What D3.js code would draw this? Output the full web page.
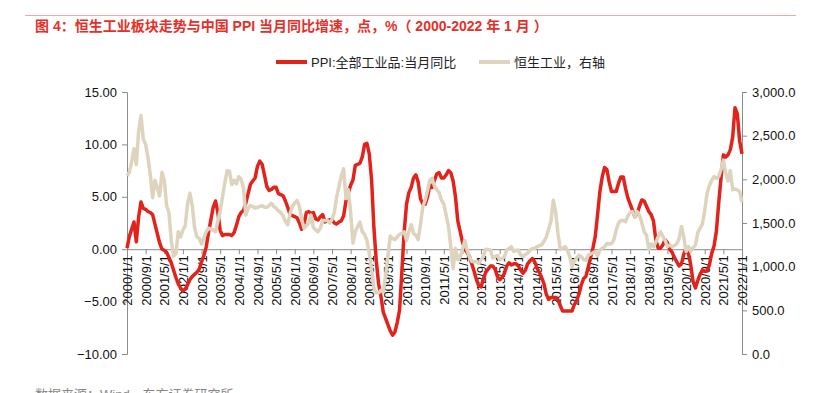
<!DOCTYPE html>
<meta charset="utf-8">
<script src="https://cdn.jsdelivr.net/npm/d3@7"></script>
<style>
  html, body { margin: 0; background: #fff; }
  svg { font-family: "Liberation Sans", "Noto Sans CJK SC", sans-serif; }
  .axis path, .axis line { stroke: #8c8c8c; }
  .axis text { fill: #111; font-size: 13px; }
</style>
<body>
<script>
// months 2000/1/1 .. 2022/1/1
var months = [];
for (var yy = 2000; yy <= 2022; yy++) {
  for (var mm = 1; mm <= 12; mm++) {
    months.push(yy + "/" + mm + "/1");
    if (yy == 2022) break;
  }
}

var xTicks = ["2000/1/1","2000/9/1","2001/5/1","2002/1/1","2002/9/1","2003/5/1","2004/1/1","2004/9/1",
  "2005/5/1","2006/1/1","2006/9/1","2007/5/1","2008/1/1","2008/9/1","2009/5/1","2010/1/1","2010/9/1",
  "2011/5/1","2012/1/1","2012/9/1","2013/5/1","2014/1/1","2014/9/1","2015/5/1","2016/1/1","2016/9/1",
  "2017/5/1","2018/1/1","2018/9/1","2019/5/1","2020/1/1","2020/9/1","2021/5/1","2022/1/1"];
var leftTicks = [-10, -5, 0, 5, 10, 15];
var rightTicks = [0, 500, 1000, 1500, 2000, 2500, 3000];

// PPI:全部工业品:当月同比 (%)
var ppi = [
  0.1, 1.2, 1.9, 2.6, 0.7, 3.1, 4.5, 3.9, 3.8, 3.6, 3.5, 3.3,
  2.4, 1.5, 0.6, 0.0, -0.1, -0.3, -0.8, -1.3, -2.0, -2.7, -3.3, -3.7,
  -4.0, -3.8, -3.4, -2.9, -2.6, -2.4, -2.2, -1.9, -1.2, -0.6, 0.2, 1.6,
  2.8, 4.0, 4.6, 3.5, 1.8, 1.3, 1.4, 1.4, 1.4, 1.3, 1.6, 2.3,
  3.1, 3.5, 3.7, 4.4, 5.3, 6.2, 6.5, 6.8, 7.9, 8.4, 8.1, 7.1,
  6.0, 5.6, 5.7, 5.9, 5.9, 5.3, 5.2, 5.1, 4.6, 4.0, 3.3, 3.2,
  3.1, 3.0, 2.5, 1.9, 2.4, 3.5, 3.6, 3.4, 3.5, 2.9, 2.8, 3.1,
  3.3, 2.6, 2.7, 2.8, 2.8, 2.5, 2.4, 2.6, 2.7, 3.2, 4.6, 5.4,
  6.1, 6.6, 8.0, 8.1, 8.2, 8.8, 10.0, 10.1, 9.1, 6.6, 2.0, -1.1,
  -3.3, -4.5, -6.0, -6.6, -7.2, -7.8, -8.2, -7.9, -7.0, -5.8, -2.1, 1.7,
  4.3, 5.4, 5.9, 6.8, 7.1, 6.4, 4.8, 4.3, 4.3, 5.0, 6.1, 5.9,
  6.6, 7.2, 7.3, 6.8, 6.8, 7.1, 7.5, 7.3, 6.5, 5.0, 2.7, 1.7,
  0.7, 0.0, -0.3, -0.7, -1.4, -2.1, -2.9, -3.5, -3.6, -2.8, -2.2, -1.9,
  -1.6, -1.6, -1.9, -2.6, -2.9, -2.7, -2.3, -1.6, -1.3, -1.5, -1.4, -1.4,
  -1.6, -2.0, -2.3, -2.0, -1.4, -1.1, -0.9, -1.2, -1.8, -2.2, -2.7, -3.3,
  -4.3, -4.8, -4.6, -4.6, -4.6, -4.8, -5.4, -5.9, -5.9, -5.9, -5.9, -5.9,
  -5.3, -4.9, -4.3, -3.4, -2.8, -2.6, -1.7, -0.8, 0.1, 1.2, 3.3, 5.5,
  6.9, 7.8, 7.6, 6.4, 5.5, 5.5, 5.5, 6.3, 6.9, 6.9, 5.8, 4.9,
  4.3, 3.7, 3.1, 3.4, 4.1, 4.7, 4.6, 4.1, 3.6, 3.3, 2.7, 0.9,
  0.1, 0.1, 0.4, 0.9, 0.6, 0.0, -0.3, -0.8, -1.2, -1.6, -1.4, -0.5,
  0.1, -0.4, -1.5, -3.1, -3.7, -3.0, -2.4, -2.0, -2.1, -2.1, -1.5, -0.4,
  0.3, 1.7, 4.4, 6.8, 9.0, 8.8, 9.0, 9.5, 10.7, 13.5, 12.9, 10.3,
  9.1
];

// 恒生工业 (点, 右轴)
var hsi = [
  2040, 2080, 2200, 2350, 2170, 2550, 2730, 2460, 2400, 2250, 2050, 1790,
  1990, 1900, 1810, 2080, 1990, 1700, 1620, 1300, 1120, 1150, 1400, 1340,
  1420, 1470, 1720, 1840, 1700, 1450, 1340, 1320, 1260, 1330, 1400, 1440,
  1430, 1420, 1400, 1520, 1640, 1800, 1960, 2100, 2090, 1940, 1990, 1950,
  2030, 2000, 1900, 1590, 1670, 1700, 1690, 1670, 1680, 1690, 1700, 1680,
  1680, 1700, 1725, 1690, 1670, 1640, 1620, 1580, 1520, 1480, 1610, 1690,
  1730, 1760, 1690, 1540, 1440, 1470, 1500, 1590, 1450, 1420, 1400, 1440,
  1530, 1530, 1530, 1500, 1540, 1620, 1800, 1920, 2040, 2120, 1780, 1880,
  1620, 1270, 1400, 1460, 1510, 1400, 1370, 1300, 1150, 960, 750, 700,
  700, 730, 710, 900, 1120, 1350, 1320, 1310, 1340, 1370, 1380, 1400,
  1300, 1400, 1480, 1380, 1360, 1310, 1490, 1690, 1760, 1870, 1990, 2010,
  1920, 1880, 1850, 1760, 1720, 1590, 1460, 1230, 980, 1210, 1080, 1110,
  1200, 1300, 1190, 1110, 1060, 1060, 1055, 1040, 1080, 1120, 1200, 1195,
  1190, 1100, 1115, 1130, 1080, 1090, 1115, 1190, 1210, 1230, 1175, 1185,
  1190, 1135, 1115, 1140, 1155, 1190, 1205, 1210, 1230, 1240, 1250, 1290,
  1340, 1430, 1520, 1760, 1630, 1380, 1200, 1210, 1230, 1190, 1120, 1000,
  1060, 1100, 1130, 1115, 1080, 1075, 1130, 1145, 1160, 1170, 1125, 1190,
  1210, 1230, 1265, 1260, 1265, 1310, 1420, 1500, 1530, 1530, 1515, 1580,
  1620, 1630, 1570, 1630, 1590, 1500, 1400, 1360, 1200, 1260, 1230, 1280,
  1340, 1400, 1350, 1300, 1230, 1245, 1230, 1240, 1265, 1320, 1460, 1340,
  1175, 1230, 1175, 1220, 1245, 1390, 1440, 1490, 1640, 1840, 1930, 1990,
  2030, 2010, 2030, 2110, 2220, 2080, 1980, 2100, 1880, 1890, 1880, 1860,
  1740
];

var W = 819, H = 393;
var plotL = 127, plotR = 742, plotT = 92, plotB = 354;
var red = "#e2231c", beige = "#ded3bc";

var svg = d3.select("body").append("svg")
  .attr("width", W)
  .attr("height", H);

// title
svg.append("line")
  .attr("x1", 25).attr("x2", 796).attr("y1", 15.5).attr("y2", 15.5)
  .attr("stroke", "#f0a8a6").attr("stroke-width", 1);
svg.append("text")
  .attr("x", 35).attr("y", 31)
  .attr("fill", "#e5302a")
  .style("font-size", "14px")
  .style("font-weight", "bold")
  .text("图 4：恒生工业板块走势与中国 PPI 当月同比增速，点，%（ 2000-2022 年 1 月 ）");

// legend
var legend = [
  { name: "PPI:全部工业品:当月同比", color: red, x: 276 },
  { name: "恒生工业，右轴", color: beige, x: 479 }
];
legend.forEach(function (d) {
  svg.append("line")
    .attr("x1", d.x).attr("x2", d.x + 31).attr("y1", 62).attr("y2", 62)
    .attr("stroke", d.color).attr("stroke-width", 4);
  svg.append("text")
    .attr("x", d.x + 35).attr("y", 67)
    .attr("fill", "#222")
    .style("font-size", "13px")
    .text(d.name);
});

// scales
var x = d3.scalePoint().domain(months).range([plotL, plotR]);
var yL = d3.scaleLinear().domain([-10, 15]).range([plotB, plotT]);
var yR = d3.scaleLinear().domain([0, 3000]).range([plotB, plotT]);

// axes
svg.append("g")
  .attr("class", "axis")
  .attr("transform", "translate(" + plotL + ",0)")
  .call(d3.axisLeft(yL).tickValues(leftTicks).tickFormat(d3.format(".2f")).tickSizeOuter(0).tickSize(5).tickPadding(5));

svg.append("g")
  .attr("class", "axis")
  .attr("transform", "translate(" + plotR + ",0)")
  .call(d3.axisRight(yR).tickValues(rightTicks).tickFormat(d3.format(",.1f")).tickSizeOuter(0).tickSize(5).tickPadding(5));

var gx = svg.append("g")
  .attr("class", "axis")
  .attr("transform", "translate(0," + yL(0) + ")")
  .call(d3.axisBottom(x).tickValues(xTicks).tickSizeOuter(0).tickSize(5));
gx.selectAll("text")
  .attr("transform", "rotate(-90)")
  .attr("x", -6)
  .attr("y", 0)
  .attr("dy", "0.35em")
  .style("text-anchor", "end");

// lines
var lineL = d3.line()
  .x(function (d, i) { return x(months[i]); })
  .y(function (d) { return yL(d); });
var lineR = d3.line()
  .x(function (d, i) { return x(months[i]); })
  .y(function (d) { return yR(d); });

svg.append("path")
  .datum(ppi)
  .attr("d", lineL)
  .attr("fill", "none")
  .attr("stroke", red)
  .attr("stroke-width", 3.5)
  .attr("stroke-linejoin", "round");

svg.append("path")
  .datum(hsi)
  .attr("d", lineR)
  .attr("fill", "none")
  .attr("stroke", beige)
  .attr("stroke-width", 3.5)
  .attr("stroke-linejoin", "round");

// source
svg.append("text")
  .attr("x", 35).attr("y", 399)
  .attr("fill", "#888")
  .style("font-size", "13px")
  .text("数据来源：Wind，东方证券研究所");
</script>
</body>
